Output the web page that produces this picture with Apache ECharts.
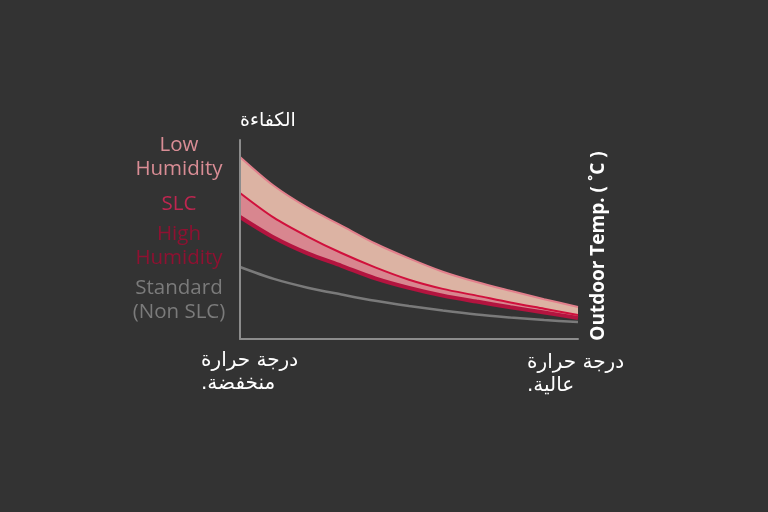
<!DOCTYPE html>
<html>
<head>
<meta charset="utf-8">
<script src="https://cdn.jsdelivr.net/npm/echarts@6/dist/echarts.min.js"></script>
<style>
  html, body { margin: 0; padding: 0; background: #333333; }
  #main { width: 768px; height: 512px; }
</style>
</head>
<body>
<div id="main"></div>
<script>
// x position along the outdoor temperature axis (0 = low, 100 = high)
var temps = [0, 10, 20, 30, 40, 50, 60, 70, 80, 90, 100];
// efficiency curves (0..100 of axis height)
var lowHumidity  = [91.5, 77, 66, 57, 48, 40.5, 33.8, 28.6, 24.2, 20, 16.1];
var slc          = [73.4, 61, 51.5, 43.2, 36, 29.8, 25.2, 21.8, 18.3, 15.2, 12.1];
var highHumidity = [61.3, 51, 43, 36.8, 30.5, 25.7, 21.8, 18.8, 16, 13.3, 10.6];
var standard     = [36.2, 30.2, 25.8, 22.4, 19.2, 16.6, 14.3, 12.3, 10.8, 9.5, 8.5];

var legendLines = [
    {text: 'Low', color: '#d98d95', y: 145},
    {text: 'Humidity', color: '#d98d95', y: 169},
    {text: 'SLC', color: '#bf2650', y: 204},
    {text: 'High', color: '#8e1131', y: 234},
    {text: 'Humidity', color: '#8e1131', y: 258},
    {text: 'Standard', color: '#7b7b7b', y: 288},
    {text: '(Non SLC)', color: '#7b7b7b', y: 312}
];

function pairs(ys) {
    return temps.map(function (t, i) { return [t, ys[i]]; });
}

var chart = echarts.init(document.getElementById('main'));

var graphics = [];
legendLines.forEach(function (l) {
    graphics.push({
        type: 'text', x: 179, y: l.y,
        style: {text: l.text, fill: l.color, font: '20.5px "Open Sans", sans-serif',
                textAlign: 'center', textVerticalAlign: 'middle'}
    });
});
// Arabic labels
var arFont = '20px "DejaVu Sans", sans-serif';
graphics.push(
    {type: 'text', x: 240, y: 121, style: {text: 'الكفاءة', fill: '#ffffff', font: '19px "DejaVu Sans", sans-serif', textAlign: 'left', textVerticalAlign: 'middle'}},
    {type: 'text', x: 201, y: 361, style: {text: 'درجة حرارة', fill: '#ffffff', font: arFont, textAlign: 'left', textVerticalAlign: 'middle'}},
    {type: 'text', x: 201, y: 384, style: {text: 'منخفضة.\u200F', fill: '#ffffff', font: arFont, textAlign: 'left', textVerticalAlign: 'middle'}},
    {type: 'text', x: 527, y: 363, style: {text: 'درجة حرارة', fill: '#ffffff', font: arFont, textAlign: 'left', textVerticalAlign: 'middle'}},
    {type: 'text', x: 527, y: 386, style: {text: 'عالية.\u200F', fill: '#ffffff', font: arFont, textAlign: 'left', textVerticalAlign: 'middle'}},
    {type: 'text', x: 599, y: 246, rotation: Math.PI / 2,
     style: {text: 'Outdoor Temp. ( ˚C )', fill: '#ffffff', font: 'bold 19px "Open Sans", sans-serif',
             textAlign: 'center', textVerticalAlign: 'middle'}}
);

var axisBase = {
    type: 'value', min: 0, max: 100, z: 10,
    axisLine: {show: true, lineStyle: {color: '#8c8c8c', width: 2}},
    axisTick: {show: false}, axisLabel: {show: false}, splitLine: {show: false}
};

chart.setOption({
    backgroundColor: '#333333',
    animation: false,
    grid: {left: 240, top: 140, right: 190, bottom: 173},
    xAxis: axisBase,
    yAxis: axisBase,
    series: [
        {   // low humidity: top edge, peach band down to the axis
            type: 'line', z: 2, smooth: 0.3, showSymbol: false,
            data: pairs(lowHumidity),
            lineStyle: {color: '#e2808c', width: 2},
            areaStyle: {color: '#dcb3a3', opacity: 1}
        },
        {   // SLC: pink lower half of band
            type: 'line', z: 3, smooth: 0.3, showSymbol: false,
            data: pairs(slc),
            lineStyle: {width: 0},
            areaStyle: {color: '#d8868f', opacity: 1}
        },
        {   // high humidity: bottom edge, cover below with background
            type: 'line', z: 4, smooth: 0.3, showSymbol: false,
            data: pairs(highHumidity),
            lineStyle: {color: '#b3143f', width: 4},
            areaStyle: {color: '#333333', opacity: 1}
        },
        {   // SLC line on top
            type: 'line', z: 5, smooth: 0.3, showSymbol: false,
            data: pairs(slc),
            lineStyle: {color: '#d0103c', width: 2}
        },
        {   // standard (non SLC)
            type: 'line', z: 5, smooth: 0.3, showSymbol: false,
            data: pairs(standard),
            lineStyle: {color: '#7a7a7a', width: 2.5}
        }
    ],
    graphic: graphics
});
</script>
</body>
</html>
